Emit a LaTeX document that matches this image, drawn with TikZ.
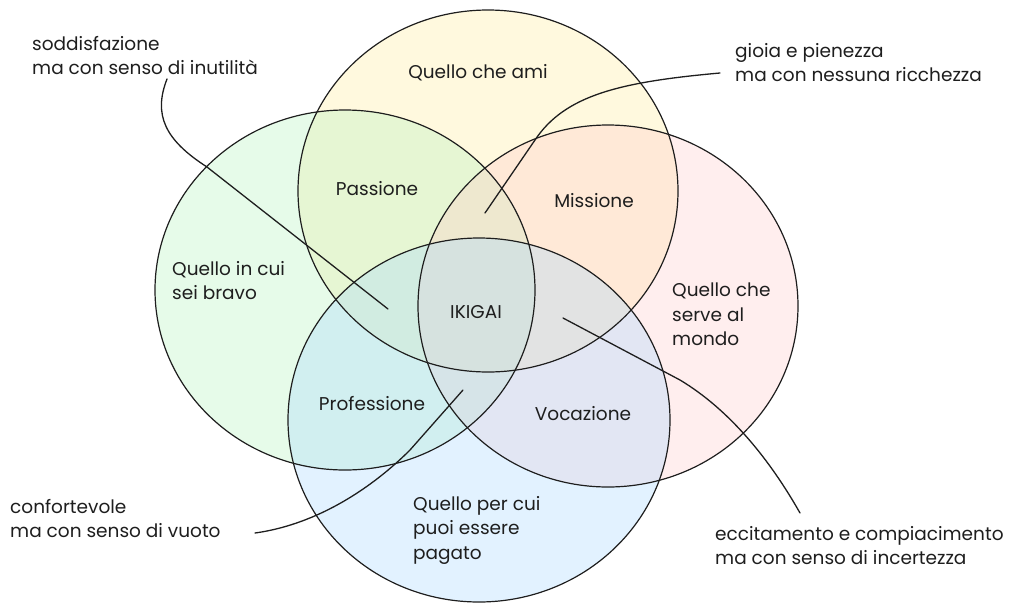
\documentclass[tikz,border=0pt]{standalone}
\usepackage{fontspec}
\setmainfont{Poppins}
\definecolor{ink}{HTML}{1E1E1E}
\definecolor{cyellow}{HTML}{FFEC99}
\definecolor{cgreen}{HTML}{B2F2BB}
\definecolor{cred}{HTML}{FFC9C9}
\definecolor{cblue}{HTML}{A5D8FF}
\begin{document}
\begin{tikzpicture}[x=1pt,y=-1pt,
  txt/.style={font=\fontsize{18.5}{24.5}\selectfont, text=ink, inner sep=0pt, align=left},
  ctxt/.style={font=\fontsize{18.5}{24.5}\selectfont, text=ink, inner sep=0pt, anchor=base},
  tint/.style={fill opacity=0.32},
  rim/.style={draw=ink, line width=1.2pt},
  conn/.style={draw=ink, line width=1.3pt, line cap=round}]
\useasboundingbox (0,0) rectangle (1012,611);
% fills
\fill[cyellow, tint] (488,191) ellipse [x radius=190pt, y radius=181pt];
\fill[cgreen, tint] (345,290) ellipse [x radius=190pt, y radius=180pt];
\fill[cred, tint] (608,306) ellipse [x radius=190pt, y radius=181pt];
\fill[cblue, tint] (479,420) ellipse [x radius=191pt, y radius=182pt];
% outlines
\draw[rim] (488,191) ellipse [x radius=190pt, y radius=181pt];
\draw[rim] (345,290) ellipse [x radius=190pt, y radius=180pt];
\draw[rim] (608,306) ellipse [x radius=190pt, y radius=181pt];
\draw[rim] (479,420) ellipse [x radius=191pt, y radius=182pt];
% labels inside
\node[ctxt] (ami) at (478,78) {Quello che ami};
\node[ctxt] (passione) at (377,195) {Passione};
\node[ctxt] (missione) at (594,207) {Missione};
\node[ctxt] (ikigai) at (476,318) {IKIGAI};
\node[ctxt] (professione) at (372,410) {Professione};
\node[ctxt] (vocazione) at (583,420) {Vocazione};
\node[txt, anchor=north west] (bravo) at (172,261) {Quello in cui\\sei bravo};
\node[txt, anchor=north west] (mondo) at (672,283) {Quello che\\serve al\\mondo};
\node[txt, anchor=north west] (pagato) at (413,496) {Quello per cui\\puoi essere\\pagato};
% annotations
\node[txt, anchor=north west] (n1) at (32,36) {soddisfazione\\ma con senso di inutilità};
\node[txt, anchor=north west] (n2) at (735,43) {gioia e pienezza\\ma con nessuna ricchezza};
\node[txt, anchor=north west] (n3) at (10,499) {confortevole\\ma con senso di vuoto};
\node[txt, anchor=north west] (n4) at (715,526) {eccitamento e compiacimento\\ma con senso di incertezza};
% connector ends
\coordinate (s1) at (167,79);  \coordinate (e1) at (388,309);
\coordinate (s2) at (720,73);  \coordinate (e2) at (485,213);
\coordinate (s3) at (255,533); \coordinate (e3) at (463,390);
\coordinate (s4) at (800,513); \coordinate (e4) at (563,318);
\draw[conn] (s1) .. controls (153,115) and (165,140) .. (207,167) -- (e1);
\draw[conn] (s2) .. controls (620,82) and (565,95) .. (535,140) -- (e2);
\draw[conn] (s3) .. controls (320,524) and (375,485) .. (410,450) -- (e3);
\draw[conn] (s4) .. controls (770,460) and (730,410) .. (680,380) -- (e4);
\end{tikzpicture}
\end{document}
